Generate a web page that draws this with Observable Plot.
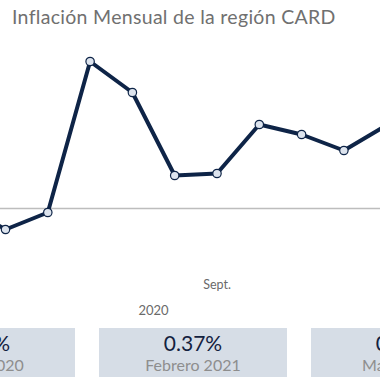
<!DOCTYPE html>
<html>
<head>
<meta charset="utf-8">
<script src="https://cdn.jsdelivr.net/npm/d3@7"></script>
<script src="https://cdn.jsdelivr.net/npm/@observablehq/plot@0.6"></script>
<style>
  html, body { margin: 0; padding: 0; background: #fff; }
  #wrap { position: relative; width: 380px; height: 380px; overflow: hidden; font-family: Lato, "Open Sans", sans-serif; }
  #title { position: absolute; left: 12px; top: 5px; font-size: 19.5px; color: #707070; white-space: nowrap; letter-spacing: 0.3px; }
  #chart { position: absolute; left: 0; top: 0; }
  .card { position: absolute; top: 328px; height: 49px; width: 188px; background: #d6dde6; text-align: center; }
  .card .v { position: absolute; left: 0; right: 0; top: 2px; font-size: 21px; color: #13213f; line-height: 26px; }
  .card .l { position: absolute; left: 0; right: 0; top: 27px; font-size: 16px; color: #8e8e8e; line-height: 20px; }
</style>
</head>
<body>
<div id="wrap">
  <div id="chart"></div>
  <div id="title">Inflación Mensual de la región CARD</div>
  <div id="cards"></div>
</div>
<script>
// Month index (0 = Abril 2020) and monthly inflation values (%)
const monthIndex = [-1, 0, 1, 2, 3, 4, 5, 6, 7, 8, 9, 10];
const monthNames = ["Mar 2020","Abr 2020","May 2020","Jun 2020","Jul 2020","Ago 2020","Sept 2020","Oct 2020","Nov 2020","Dic 2020","Ene 2021","Feb 2021"];
const values = [0.02, -0.105, -0.02, 0.735, 0.58, 0.165, 0.175, 0.42, 0.37, 0.29, 0.415, 0.37];

// Axis labels
const tickPos = [5];
const tickText = ["Sept."];
const yearPos = [3.5];
const yearText = ["2020"];

// Summary cards
const cardValues = ["0.02%", "0.37%", "0.35%"];
const cardLabels = ["Marzo 2020", "Febrero 2021", "Marzo 2021"];
const cardLefts = [-113, 99, 311];

const data = monthIndex.map((m, i) => ({m, name: monthNames[i], v: values[i]}));
const ticks = tickPos.map((p, i) => ({p, t: tickText[i]}));
const years = yearPos.map((p, i) => ({p, t: yearText[i]}));

const navy = "#0e2447";

const plot = Plot.plot({
  width: 380,
  height: 320,
  marginTop: 0, marginRight: 0, marginBottom: 0, marginLeft: 0,
  x: {type: "linear", domain: [0, 10], range: [5, 428], axis: null},
  y: {domain: [0, 1], range: [208, 8], axis: null},
  style: {fontFamily: "Lato, sans-serif", overflow: "hidden"},
  marks: [
    Plot.ruleY([0], {stroke: "#bdbdbd", strokeWidth: 1.6}),
    Plot.line(data, {x: "m", y: "v", stroke: navy, strokeWidth: 4, strokeLinejoin: "round"}),
    Plot.dot(data, {x: "m", y: "v", r: 4.2, fill: "#dde4ee", stroke: navy, strokeWidth: 1.2}),
    Plot.text(ticks, {x: "p", text: "t", frameAnchor: "top", dy: 280, fontSize: 12.5, fill: "#6a6a6a"}),
    Plot.text(years, {x: "p", text: "t", frameAnchor: "top", dy: 305, fontSize: 13, fill: "#6a6a6a"})
  ]
});
document.getElementById("chart").appendChild(plot);

const cards = document.getElementById("cards");
cardValues.forEach((v, i) => {
  const c = document.createElement("div");
  c.className = "card";
  c.style.left = cardLefts[i] + "px";
  c.innerHTML = `<div class="v">${v}</div><div class="l">${cardLabels[i]}</div>`;
  cards.appendChild(c);
});
</script>
</body>
</html>
